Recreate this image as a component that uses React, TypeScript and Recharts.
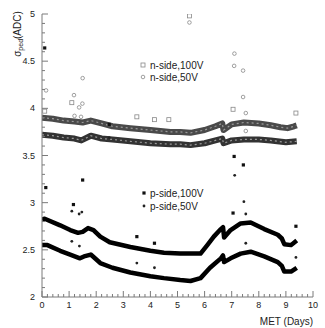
import React from 'react';
import { ComposedChart, Line, Scatter, XAxis, YAxis } from 'recharts';

// bands, [days, ADC]
const nSide100Band = [
    [0, 3.9], [0.4, 3.89], [0.8, 3.87], [1.2, 3.86], [1.5, 3.85], [1.8, 3.87], [2.2, 3.84],
    [2.6, 3.81], [3.26, 3.79], [4.0, 3.77], [4.74, 3.75], [5.1, 3.75], [5.48, 3.74], [6.0, 3.77],
    [6.4, 3.81], [6.65, 3.84], [6.7, 3.77], [7.0, 3.83], [7.45, 3.85], [8.0, 3.84], [8.44, 3.82],
    [8.8, 3.8], [9.06, 3.79], [9.3, 3.81], [9.4, 3.82],
];
const nSide50Band = [
    [0, 3.72], [0.4, 3.71], [0.8, 3.69], [1.2, 3.68], [1.45, 3.66], [1.8, 3.71], [2.2, 3.68],
    [2.6, 3.67], [3.26, 3.65], [4.0, 3.63], [4.74, 3.62], [5.1, 3.62], [5.48, 3.61], [6.0, 3.63],
    [6.4, 3.66], [6.65, 3.68], [6.7, 3.63], [7.0, 3.66], [7.45, 3.67], [8.0, 3.67], [8.44, 3.66],
    [9.0, 3.64], [9.4, 3.65],
];
const pSide100Band = [
    [0, 2.82], [0.1, 2.83], [0.67, 2.76], [1.04, 2.71], [1.33, 2.68], [1.5, 2.69], [1.7, 2.73],
    [1.9, 2.71], [2.15, 2.64], [2.5, 2.58], [3.26, 2.53], [4.0, 2.49], [4.5, 2.47], [5.1, 2.46],
    [5.85, 2.46], [6.1, 2.55], [6.34, 2.64], [6.6, 2.72], [6.68, 2.74], [6.72, 2.63], [6.96, 2.71],
    [7.33, 2.78], [7.7, 2.79], [8.2, 2.72], [8.7, 2.66], [8.85, 2.62], [8.94, 2.56], [9.19, 2.55],
    [9.4, 2.6],
];
const pSide50Band = [
    [0, 2.55], [0.2, 2.55], [0.67, 2.49], [1.04, 2.45], [1.4, 2.41], [1.55, 2.43], [1.8, 2.45],
    [2.15, 2.36], [2.6, 2.31], [3.26, 2.26], [4.0, 2.22], [4.5, 2.2], [5.1, 2.18], [5.48, 2.17],
    [5.85, 2.2], [6.2, 2.31], [6.6, 2.41], [6.68, 2.44], [6.72, 2.37], [6.96, 2.41], [7.33, 2.46],
    [7.7, 2.48], [8.2, 2.43], [8.7, 2.37], [8.85, 2.33], [8.94, 2.27], [9.19, 2.27], [9.4, 2.31],
];

// stray points off the bands
const nSide100Outliers = [
    [5.44, 4.98], [7.05, 3.99], [0.1, 3.97], [3.5, 3.91], [4.15, 3.88], [4.68, 3.88], [9.37, 3.95],
    [1.1, 4.06],
];
const nSide50Outliers = [
    [5.44, 4.91], [0.15, 4.19], [1.18, 4.14], [1.5, 4.32], [1.37, 4.01], [1.49, 4.05], [1.2, 3.92],
    [1.44, 3.91], [7.09, 4.45], [7.42, 4.4], [7.42, 4.12], [7.52, 3.95], [7.52, 3.76], [7.1, 4.58],
];
const pSide100Outliers = [
    [0.1, 4.64], [0.14, 3.16], [7.09, 3.49], [7.43, 3.4], [2.48, 3.83], [7.05, 2.89], [1.16, 2.98],
    [1.5, 3.24], [3.5, 2.64], [4.15, 2.57], [9.37, 2.75],
];
const pSide50Outliers = [
    [1.1, 2.91], [1.37, 2.88], [1.47, 2.9], [7.11, 3.29], [7.45, 3.01], [7.52, 2.88], [1.1, 2.59],
    [1.38, 2.54], [3.5, 2.36], [4.15, 2.31], [7.52, 2.57], [9.37, 2.42], [2.48, 3.69],
];

const X_MAJOR = [0, 1, 2, 3, 4, 5, 6, 7, 8, 9, 10];
const Y_MAJOR = [2, 2.5, 3, 3.5, 4, 4.5, 5];
const X_TICKS = Array.from({ length: 51 }, (_, i) => Math.round(i * 2) / 10);
const Y_TICKS = Array.from({ length: 31 }, (_, i) => Math.round(20 + i) / 10);

const toPts = (arr: number[][]) => arr.map(([x, y]) => ({ x, y }));

const FONT = '"Liberation Sans", Arial, sans-serif';
const FRAME = '#7a7a7a';

const isMajor = (list: number[], v: number) => list.some((m) => Math.abs(m - v) < 1e-6);

const BottomTick = (props: any) => {
    const { x, y, payload } = props;
    const major = isMajor(X_MAJOR, payload.value);
    return (
        <g>
            <line x1={x} y1={y} x2={x} y2={y - (major ? 6 : 3)} stroke={FRAME} />
            {major && (
                <text x={x} y={y + 11} textAnchor="middle" fontSize={9} fontFamily={FONT} fill="#222">
                    {payload.value}
                </text>
            )}
        </g>
    );
};

const TopTick = (props: any) => {
    const { x, y, payload } = props;
    const major = isMajor(X_MAJOR, payload.value);
    return <line x1={x} y1={y} x2={x} y2={y + (major ? 6 : 3)} stroke={FRAME} />;
};

const LeftTick = (props: any) => {
    const { x, y, payload } = props;
    const major = isMajor(Y_MAJOR, payload.value);
    return (
        <g>
            <line x1={x} y1={y} x2={x + (major ? 6 : 3)} y2={y} stroke={FRAME} />
            {major && (
                <text x={x - 7} y={y + 3} textAnchor="end" fontSize={9} fontFamily={FONT} fill="#222">
                    {payload.value}
                </text>
            )}
        </g>
    );
};

const RightTick = (props: any) => {
    const { x, y, payload } = props;
    const major = isMajor(Y_MAJOR, payload.value);
    return <line x1={x} y1={y} x2={x - (major ? 6 : 3)} y2={y} stroke={FRAME} />;
};

const OpenSquare = (p: any) => (
    <rect x={p.cx - 2} y={p.cy - 2} width={4} height={4} fill="none" stroke="#888" strokeWidth={0.8} />
);
const OpenCircle = (p: any) => (
    <circle cx={p.cx} cy={p.cy} r={1.8} fill="none" stroke="#888" strokeWidth={0.8} />
);
const FilledSquare = (p: any) => (
    <rect x={p.cx - 1.6} y={p.cy - 1.6} width={3.2} height={3.2} fill="#111" />
);
const FilledCircle = (p: any) => <circle cx={p.cx} cy={p.cy} r={1.4} fill="#222" />;

export default function App() {
    const legendText = { fontSize: 10, fontFamily: FONT, fill: '#222' };
    const bands = [
        { data: nSide100Band, color: '#4a4a4a', w: 6, texture: true },
        { data: nSide50Band, color: '#333', w: 6, texture: true },
        { data: pSide100Band, color: '#000', w: 4.5, texture: false },
        { data: pSide50Band, color: '#000', w: 4.5, texture: false },
    ];
    return (
        <div style={{ position: 'absolute', left: 0, top: 0, width: 325, height: 328, background: '#fff' }}>
            <ComposedChart width={325} height={328} margin={{ top: 14, right: 12, left: 0, bottom: 0 }}>
                <XAxis
                    xAxisId="b"
                    type="number"
                    dataKey="x"
                    domain={[0, 10]}
                    ticks={X_TICKS}
                    interval={0}
                    height={31}
                    tickSize={0}
                    tickMargin={0}
                    tickLine={false}
                    axisLine={{ stroke: FRAME }}
                    tick={(p: any) => <BottomTick {...p} />}
                    allowDataOverflow
                />
                <XAxis
                    xAxisId="t"
                    orientation="top"
                    type="number"
                    domain={[0, 10]}
                    ticks={X_TICKS}
                    interval={0}
                    height={0}
                    tickSize={0}
                    tickMargin={0}
                    tickLine={false}
                    axisLine={{ stroke: FRAME }}
                    tick={(p: any) => <TopTick {...p} />}
                    allowDataOverflow
                />
                <YAxis
                    yAxisId="l"
                    type="number"
                    domain={[2, 5]}
                    ticks={Y_TICKS}
                    interval={0}
                    width={42}
                    tickSize={0}
                    tickMargin={0}
                    tickLine={false}
                    axisLine={{ stroke: FRAME }}
                    tick={(p: any) => <LeftTick {...p} />}
                    allowDataOverflow
                />
                <YAxis
                    yAxisId="r"
                    orientation="right"
                    type="number"
                    domain={[2, 5]}
                    ticks={Y_TICKS}
                    interval={0}
                    width={0}
                    tickSize={0}
                    tickMargin={0}
                    tickLine={false}
                    axisLine={{ stroke: FRAME }}
                    tick={(p: any) => <RightTick {...p} />}
                    allowDataOverflow
                />
                {bands.map((b, i) => (
                    <Line key={`band${i}`} xAxisId="b" yAxisId="l" data={toPts(b.data)} dataKey="y"
                        type="linear" stroke={b.color} strokeWidth={b.w} strokeLinejoin="round"
                        dot={false} isAnimationActive={false} />
                ))}
                {/* speckle on the n-side bands, they are made of open markers */}
                {bands.filter((b) => b.texture).map((b, i) => (
                    <Line key={`tex${i}`} xAxisId="b" yAxisId="l" data={toPts(b.data)} dataKey="y"
                        type="linear" stroke="#9a9a9a" strokeWidth={1.2} strokeDasharray="2 3"
                        dot={false} isAnimationActive={false} />
                ))}
                <Scatter xAxisId="b" yAxisId="l" data={toPts(nSide100Outliers)} dataKey="y"
                    shape={OpenSquare} isAnimationActive={false} />
                <Scatter xAxisId="b" yAxisId="l" data={toPts(nSide50Outliers)} dataKey="y"
                    shape={OpenCircle} isAnimationActive={false} />
                <Scatter xAxisId="b" yAxisId="l" data={toPts(pSide100Outliers)} dataKey="y"
                    shape={FilledSquare} isAnimationActive={false} />
                <Scatter xAxisId="b" yAxisId="l" data={toPts(pSide50Outliers)} dataKey="y"
                    shape={FilledCircle} isAnimationActive={false} />
            </ComposedChart>
            <svg width={325} height={328} style={{ position: 'absolute', left: 0, top: 0, pointerEvents: 'none' }}>
                <rect x={141} y={63} width={4} height={4} fill="none" stroke="#888" strokeWidth={0.8} />
                <text x={150} y={68.5} {...legendText}>n-side,100V</text>
                <circle cx={143} cy={77} r={1.8} fill="none" stroke="#888" strokeWidth={0.8} />
                <text x={150} y={80.5} {...legendText}>n-side,50V</text>
                <rect x={142.4} y={191.4} width={3.2} height={3.2} fill="#111" />
                <text x={150} y={196.5} {...legendText}>p-side,100V</text>
                <circle cx={144} cy={206} r={1.4} fill="#222" />
                <text x={150} y={209.5} {...legendText}>p-side,50V</text>
                <text x={313} y={325} textAnchor="end" fontSize={10} fontFamily={FONT} fill="#222">MET (Days)</text>
                <text x={21} y={34} textAnchor="middle" transform="rotate(-90 21 34)" fontSize={10} fontFamily={FONT} fill="#222">
                    σ<tspan fontSize={7} dy={2}>ped</tspan><tspan dy={-2}>(ADC)</tspan>
                </text>
            </svg>
        </div>
    );
}
